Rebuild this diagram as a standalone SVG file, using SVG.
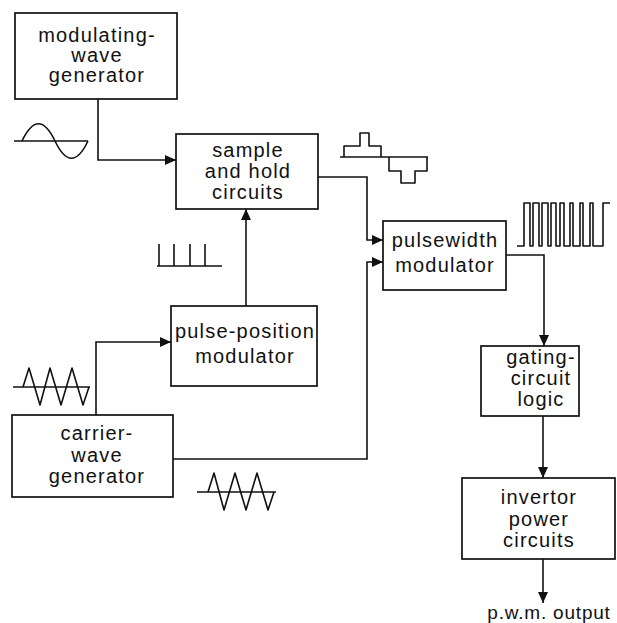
<svg xmlns="http://www.w3.org/2000/svg" width="617" height="623" viewBox="0 0 617 623">
<style>
.box{fill:none;stroke:#111;stroke-width:1.7}
.lbl{font-family:"Liberation Sans",Arial,sans-serif;font-size:20px;letter-spacing:1.2px;fill:#111;text-anchor:middle}
.out{font-size:19px;letter-spacing:0.8px}
.wire{fill:none;stroke:#111;stroke-width:1.6;stroke-linejoin:miter}
.wave{fill:none;stroke:#111;stroke-width:1.6;stroke-linejoin:round}
</style>
<defs>
<marker id="arr" markerUnits="userSpaceOnUse" markerWidth="11" markerHeight="10" refX="11" refY="5" orient="auto">
<path d="M0,0 L11,5 L0,10 z" fill="#111"/>
</marker>
</defs>
<rect width="617" height="623" fill="#fff"/>

<g id="modulating-wave-generator">
<rect class="box" x="15" y="13" width="162" height="86"/>
<text class="lbl" x="97" y="42">modulating-</text>
<text class="lbl" x="97" y="62">wave</text>
<text class="lbl" x="97" y="82">generator</text>
</g>

<g id="sample-and-hold">
<rect class="box" x="176" y="134" width="142" height="75"/>
<text class="lbl" x="248" y="157">sample</text>
<text class="lbl" x="248" y="178">and hold</text>
<text class="lbl" x="248" y="199">circuits</text>
</g>

<g id="pulsewidth-modulator">
<rect class="box" x="383" y="221" width="123" height="69"/>
<text class="lbl" x="445" y="247">pulsewidth</text>
<text class="lbl" x="445" y="272">modulator</text>
</g>

<g id="pulse-position-modulator">
<rect class="box" x="171" y="306" width="146" height="80"/>
<text class="lbl" x="245" y="338">pulse-position</text>
<text class="lbl" x="245" y="363">modulator</text>
</g>

<g id="carrier-wave-generator">
<rect class="box" x="12" y="415" width="161" height="82"/>
<text class="lbl" x="97" y="440">carrier-</text>
<text class="lbl" x="97" y="462">wave</text>
<text class="lbl" x="97" y="483">generator</text>
</g>

<g id="gating-circuit-logic">
<rect class="box" x="481" y="346" width="98" height="70"/>
<text class="lbl" x="541" y="364">gating-</text>
<text class="lbl" x="541" y="385">circuit</text>
<text class="lbl" x="541" y="406">logic</text>
</g>

<g id="invertor-power-circuits">
<rect class="box" x="462" y="478" width="153" height="81"/>
<text class="lbl" x="539" y="504">invertor</text>
<text class="lbl" x="539" y="526">power</text>
<text class="lbl" x="539" y="547">circuits</text>
</g>

<g id="output-label">
<text class="lbl out" x="549" y="619">p.w.m. output</text>
</g>

<g id="connectors">
<path class="wire" d="M98,99 V160 H176" marker-end="url(#arr)"/>
<path class="wire" d="M246,306 V209" marker-end="url(#arr)"/>
<path class="wire" d="M318,177 H367 V240 H383" marker-end="url(#arr)"/>
<path class="wire" d="M173,459 H367 V262 H383" marker-end="url(#arr)"/>
<path class="wire" d="M96,415 V342 H171" marker-end="url(#arr)"/>
<path class="wire" d="M506,255 H544 V346" marker-end="url(#arr)"/>
<path class="wire" d="M543,416 V478" marker-end="url(#arr)"/>
<path class="wire" d="M543,559 V603" marker-end="url(#arr)"/>
</g>

<g id="waveforms">
<path class="wave" d="M14,141 H88"/>
<path class="wave" d="M22,141 C33,118 44,118 55,141 S77,164 88,141"/>
<path class="wave" d="M340,157 H428"/>
<path class="wave" d="M344,157 V146 H360 V133 H369 V146 H381 V157"/>
<path class="wave" d="M389,157 V171 H401 V183 H415 V171 H427 V157"/>
<path class="wave" d="M157,266 H222 M159,266 V244 M174,266 V244 M190,266 V244 M205,266 V244"/>
<path class="wave" d="M517,246 H524 V203 H530 V246 H533 V203 H539 V246 H542 V203 H548 V246 H551 V203 H556 V246 H560 V203 H564 V246 H570 V203 H573 V246 H580 V203 H583 V246 H590 V203 H593 V246 H603 V203 H610"/>
<path class="wave" d="M13,387 H90"/>
<path class="wave" d="M23,387 L29,368 L40,405 L50,368 L61,405 L72,368 L83,405 L89,387"/>
<path class="wave" d="M197,492 H276"/>
<path class="wave" d="M208,492 L214,473 L224,510 L235,473 L246,510 L257,473 L268,510 L274,492"/>
</g>
</svg>
